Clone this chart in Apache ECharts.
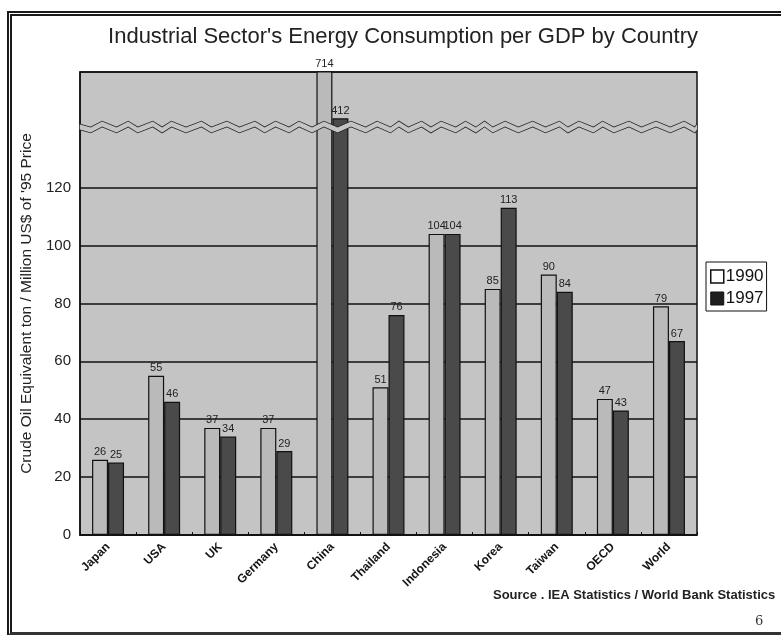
<!DOCTYPE html>
<html>
<head>
<meta charset="utf-8">
<title>Industrial Sector's Energy Consumption per GDP by Country</title>
<script src="https://cdn.jsdelivr.net/npm/echarts@6/dist/echarts.min.js"></script>
<style>
  html, body { margin: 0; padding: 0; background: #fff; }
  #frame {
    position: absolute; left: 7px; top: 11px; width: 800px; height: 624px;
    border-left: 5px double #1a1a1a; border-top: 5px double #1a1a1a; border-bottom: 3px solid #333;
    box-sizing: border-box; pointer-events: none; z-index: 2;
  }
  #chart { position: absolute; left: 0; top: 0; width: 781px; height: 638px; }
</style>
</head>
<body>
<div id="chart"></div>
<div id="frame"></div>
<script>
// Countries along the x axis
const countries = ['Japan', 'USA', 'UK', 'Germany', 'China', 'Thailand', 'Indonesia', 'Korea', 'Taiwan', 'OECD', 'World'];
// Crude oil equivalent ton per million US$ (1995 prices)
const values1990 = [26, 55, 37, 37, 714, 51, 104, 85, 90, 47, 79];
const values1997 = [25, 46, 34, 29, 412, 76, 104, 113, 84, 43, 67];
// Tick labels printed on the value axis
const yTickLabels = [0, 20, 40, 60, 80, 100, 120];

const chart = echarts.init(document.getElementById('chart'), null, { renderer: 'canvas' });

const barLabel = {
  show: true,
  position: 'top',
  distance: 2,
  fontSize: 11,
  fontFamily: 'Liberation Sans',
  color: '#222'
};

chart.setOption({
  backgroundColor: '#ffffff',
  animation: false,
  title: [
    {
      text: "Industrial Sector's Energy Consumption per GDP by Country",
      left: 398, top: 21, textAlign: 'center',
      textStyle: { fontFamily: 'Liberation Sans', fontSize: 22, fontWeight: 'normal', color: '#222' }
    },
    {
      text: 'Source . IEA Statistics / World Bank Statistics',
      left: 488, top: 584,
      textStyle: { fontFamily: 'Liberation Sans', fontSize: 13, fontWeight: 'bold', color: '#222' }
    },
    {
      text: '6',
      left: 750, top: 610,
      textStyle: { fontFamily: 'DejaVu Serif', fontSize: 13, fontWeight: 'normal', color: '#333' }
    }
  ],
  legend: {
    orient: 'vertical',
    left: 706, top: 262,
    backgroundColor: '#fff',
    borderColor: '#111', borderWidth: 1,
    padding: [6, 3, 4, 4],
    itemGap: 5,
    itemWidth: 13, itemHeight: 13,
    icon: 'rect',
    textStyle: { fontFamily: 'Liberation Sans', fontSize: 17, color: '#111', padding: [0, 0, 0, -3] },
    data: [
      { name: '1990', itemStyle: { color: '#fff', borderColor: '#111', borderWidth: 1.5 } },
      { name: '1997', itemStyle: { color: '#1e1e1e', borderColor: '#111', borderWidth: 1 } }
    ]
  },
  grid: {
    left: 80, right: 84, top: 72, bottom: 103,
    show: true,
    backgroundColor: '#c4c4c4',
    borderColor: '#111', borderWidth: 1.5
  },
  xAxis: {
    type: 'category',
    data: countries,
    axisLine: { lineStyle: { color: '#111', width: 1.5 } },
    axisTick: { show: true, inside: true, length: 3, lineStyle: { color: '#111' } },
    axisLabel: {
      rotate: 45, interval: 0, margin: 10,
      fontFamily: 'Liberation Sans', fontSize: 12, fontWeight: 'bold', color: '#151515'
    }
  },
  yAxis: {
    type: 'value',
    min: 0, max: 428, interval: 20,
    name: "Crude Oil Equivalent ton / Million US$ of '95 Price",
    nameLocation: 'middle', nameGap: 42, nameRotate: 90,
    nameTextStyle: { fontFamily: 'Liberation Sans', fontSize: 15.5, color: '#222' },
    breaks: [{ start: 140, end: 410, gap: '1.2%' }],
    breakArea: {
      show: true,
      itemStyle: { color: '#c4c4c4', borderColor: '#222', borderWidth: 1.5, borderType: 'solid', opacity: 1 },
      zigzagAmplitude: 3, zigzagMinSpan: 8, zigzagMaxSpan: 16
    },
    axisLine: { show: true, lineStyle: { color: '#111', width: 1.5 } },
    axisTick: { show: false },
    axisLabel: {
      margin: 9,
      fontFamily: 'Liberation Sans', fontSize: 15, color: '#222',
      formatter: v => (yTickLabels.indexOf(v) >= 0 ? String(v) : '')
    },
    splitLine: { show: true, lineStyle: { color: '#111', width: 1.5 } }
  },
  series: [
    {
      name: '1990', type: 'bar', data: values1990,
      barGap: '0%', barCategoryGap: '43%',
      itemStyle: { color: '#bababa', borderColor: '#111', borderWidth: 1.2 },
      label: barLabel
    },
    {
      name: '1997', type: 'bar', data: values1997,
      itemStyle: { color: '#4a4a4a', borderColor: '#111', borderWidth: 1.2 },
      label: barLabel
    }
  ]
});
</script>
</body>
</html>
